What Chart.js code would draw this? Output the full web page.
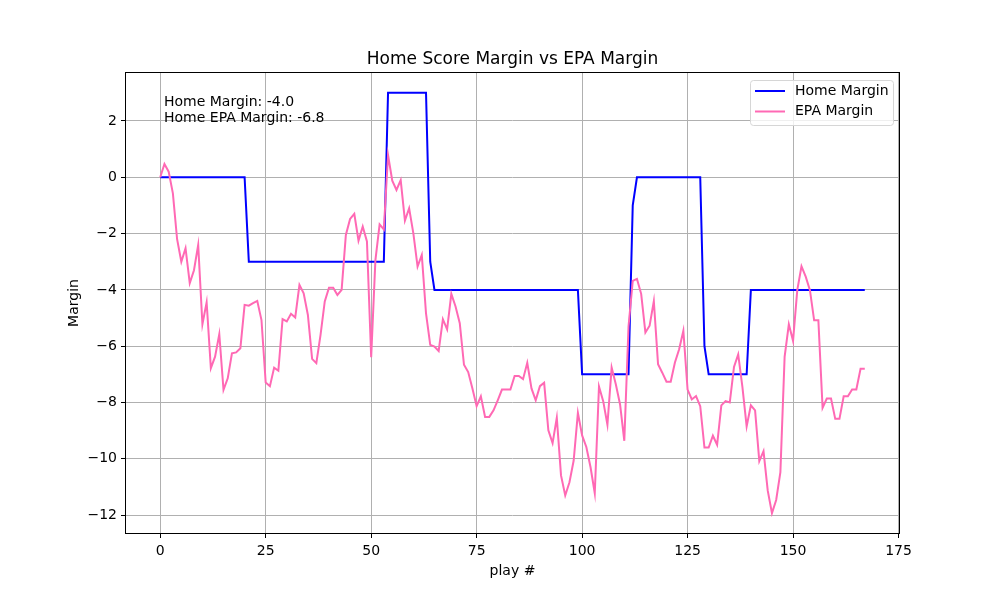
<!DOCTYPE html>
<html>
<head>
<meta charset="utf-8">
<script src="https://cdn.jsdelivr.net/npm/chart.js@4.4.1/dist/chart.umd.min.js"></script>
<style>
  html, body { margin: 0; padding: 0; background: #fff; }
  #wrap { width: 1000px; height: 600px; }
</style>
</head>
<body>
<div id="wrap"><canvas id="myChart" width="1000" height="600"></canvas></div>
<script>
const homeMargin = [
  0, 0, 0, 0, 0, 0, 0, 0, 0, 0,
  0, 0, 0, 0, 0, 0, 0, 0, 0, 0,
  0, -3, -3, -3, -3, -3, -3, -3, -3, -3,
  -3, -3, -3, -3, -3, -3, -3, -3, -3, -3,
  -3, -3, -3, -3, -3, -3, -3, -3, -3, -3,
  -3, -3, -3, -3, 3, 3, 3, 3, 3, 3,
  3, 3, 3, 3, -3, -4, -4, -4, -4, -4,
  -4, -4, -4, -4, -4, -4, -4, -4, -4, -4,
  -4, -4, -4, -4, -4, -4, -4, -4, -4, -4,
  -4, -4, -4, -4, -4, -4, -4, -4, -4, -4,
  -7, -7, -7, -7, -7, -7, -7, -7, -7, -7,
  -7, -7, -1, 0, 0, 0, 0, 0, 0, 0,
  0, 0, 0, 0, 0, 0, 0, 0, 0, -6,
  -7, -7, -7, -7, -7, -7, -7, -7, -7, -7,
  -4, -4, -4, -4, -4, -4, -4, -4, -4, -4,
  -4, -4, -4, -4, -4, -4, -4, -4, -4, -4,
  -4, -4, -4, -4, -4, -4, -4, -4,
];

const epaMargin = [
  0, 0.47, 0.2, -0.57, -2.2, -3.0, -2.52, -3.76, -3.3, -2.4,
  -5.22, -4.44, -6.78, -6.37, -5.57, -7.55, -7.14, -6.25, -6.22, -6.07,
  -4.53, -4.56, -4.47, -4.39, -5.07, -7.29, -7.42, -6.76, -6.87, -5.04,
  -5.12, -4.85, -4.98, -3.82, -4.12, -4.89, -6.45, -6.6, -5.6, -4.41,
  -3.92, -3.92, -4.18, -4.0, -2.05, -1.48, -1.3, -2.25, -1.75, -2.28,
  -6.39, -2.95, -1.67, -1.85, 0.79, -0.12, -0.45, -0.1, -1.54, -1.1,
  -1.99, -3.17, -2.76, -4.83, -5.95, -6.01, -6.17, -5.04, -5.4, -4.14,
  -4.59, -5.18, -6.66, -6.92, -7.5, -8.13, -7.78, -8.51, -8.51, -8.28,
  -7.92, -7.54, -7.54, -7.54, -7.06, -7.06, -7.17, -6.59, -7.5, -7.92,
  -7.42, -7.3, -8.99, -9.44, -8.54, -10.59, -11.3, -10.83, -10.06, -8.37,
  -9.17, -9.58, -10.3, -11.22, -7.43, -7.95, -8.79, -6.76, -7.36, -8.07,
  -9.36, -5.3, -3.68, -3.61, -4.14, -5.51, -5.27, -4.4, -6.64, -6.94,
  -7.26, -7.26, -6.58, -6.11, -5.45, -7.54, -7.89, -7.77, -8.13, -9.6,
  -9.6, -9.18, -9.5, -8.1, -7.95, -8.0, -6.74, -6.29, -7.45, -8.85,
  -8.1, -8.28, -10.08, -9.73, -11.13, -11.93, -11.46, -10.47, -6.38, -5.22,
  -5.81, -4.01, -3.16, -3.53, -4.01, -5.08, -5.08, -8.19, -7.86, -7.86,
  -8.58, -8.58, -7.78, -7.78, -7.54, -7.54, -6.8, -6.8,
];

// play # is just the row index
const plays = homeMargin.map((_, i) => i);

const xTicks = [0, 25, 50, 75, 100, 125, 150, 175];
const yTicks = [-12, -10, -8, -6, -4, -2, 0, 2];

const titleText = "Home Score Margin vs EPA Margin";
const xTitle = "play #";
const yTitle = "Margin";
const noteLines = ["Home Margin: -4.0", "Home EPA Margin: -6.8"];

const FONT = "'DejaVu Sans', sans-serif";
const fmt = (v) => String(v).replace("-", "\u2212");

// titles, frame, legend and the text note, matplotlib style
const decoPlugin = {
  id: "deco",
  afterDraw(chart) {
    const { ctx, chartArea } = chart;
    const { left, right, top, bottom } = chartArea;
    ctx.save();

    // frame
    ctx.strokeStyle = "#000";
    ctx.lineWidth = 1;
    ctx.strokeRect(left + 0.5, top + 0.5, right - left - 1, bottom - top - 1);

    ctx.fillStyle = "#000";
    ctx.textAlign = "center";
    ctx.textBaseline = "alphabetic";
    ctx.font = "17px " + FONT;
    ctx.fillText(titleText, (left + right) / 2, 64);

    ctx.font = "14px " + FONT;
    ctx.fillText(xTitle, (left + right) / 2, 575);

    ctx.save();
    ctx.translate(78, (top + bottom) / 2);
    ctx.rotate(-Math.PI / 2);
    ctx.fillText(yTitle, 0, 0);
    ctx.restore();

    // note top left
    ctx.textAlign = "left";
    ctx.fillText(noteLines[0], 164, 106);
    ctx.fillText(noteLines[1], 164, 122);

    // legend
    const lx = 750.5, ly = 80.5, lw = 143, lh = 45, r = 3;
    ctx.beginPath();
    ctx.moveTo(lx + r, ly);
    ctx.lineTo(lx + lw - r, ly);
    ctx.quadraticCurveTo(lx + lw, ly, lx + lw, ly + r);
    ctx.lineTo(lx + lw, ly + lh - r);
    ctx.quadraticCurveTo(lx + lw, ly + lh, lx + lw - r, ly + lh);
    ctx.lineTo(lx + r, ly + lh);
    ctx.quadraticCurveTo(lx, ly + lh, lx, ly + lh - r);
    ctx.lineTo(lx, ly + r);
    ctx.quadraticCurveTo(lx, ly, lx + r, ly);
    ctx.closePath();
    ctx.fillStyle = "rgba(255,255,255,0.8)";
    ctx.fill();
    ctx.strokeStyle = "#d6d6d6";
    ctx.lineWidth = 1;
    ctx.stroke();

    chart.data.datasets.forEach((ds, k) => {
      const y = 91 + k * 20.5;
      ctx.strokeStyle = ds.borderColor;
      ctx.lineWidth = 2;
      ctx.beginPath();
      ctx.moveTo(755, y);
      ctx.lineTo(785, y);
      ctx.stroke();
      ctx.fillStyle = "#000";
      ctx.textBaseline = "middle";
      ctx.fillText(ds.label, 795, y);
    });

    ctx.restore();
  },
};

new Chart(document.getElementById("myChart"), {
  type: "line",
  data: {
    labels: plays,
    datasets: [
      {
        label: "Home Margin",
        data: homeMargin,
        borderColor: "#0000ff",
        backgroundColor: "#0000ff",
        borderWidth: 2,
        pointRadius: 0,
        tension: 0,
        order: 1,
      },
      {
        label: "EPA Margin",
        data: epaMargin,
        borderColor: "#ff69b4",
        backgroundColor: "#ff69b4",
        borderWidth: 2,
        pointRadius: 0,
        tension: 0,
        order: 0,
      },
    ],
  },
  options: {
    responsive: false,
    animation: false,
    devicePixelRatio: 1,
    layout: {
      padding: { left: 0, right: 100, top: 72, bottom: 0 },
    },
    plugins: {
      legend: { display: false },
      title: { display: false },
      tooltip: { enabled: false },
    },
    scales: {
      x: {
        type: "linear",
        min: -8.35,
        max: 175.35,
        afterBuildTicks: (scale) => {
          scale.ticks = xTicks.map((v) => ({ value: v }));
        },
        afterFit: (scale) => {
          scale.height = 66;
        },
        border: { display: false },
        grid: {
          color: "#b0b0b0",
          lineWidth: 1,
          tickColor: "#000",
          tickLength: 4,
        },
        ticks: {
          color: "#000",
          font: { family: FONT, size: 14 },
          padding: 5,
          maxRotation: 0,
          callback: (v) => fmt(v),
        },
      },
      y: {
        type: "linear",
        min: -12.67,
        max: 3.74,
        afterBuildTicks: (scale) => {
          scale.ticks = yTicks.map((v) => ({ value: v }));
        },
        afterFit: (scale) => {
          scale.width = 125;
        },
        border: { display: false },
        grid: {
          color: "#b0b0b0",
          lineWidth: 1,
          tickColor: "#000",
          tickLength: 4,
        },
        ticks: {
          color: "#000",
          font: { family: FONT, size: 14 },
          padding: 4,
          callback: (v) => fmt(v),
        },
      },
    },
  },
  plugins: [decoPlugin],
});
</script>
</body>
</html>
